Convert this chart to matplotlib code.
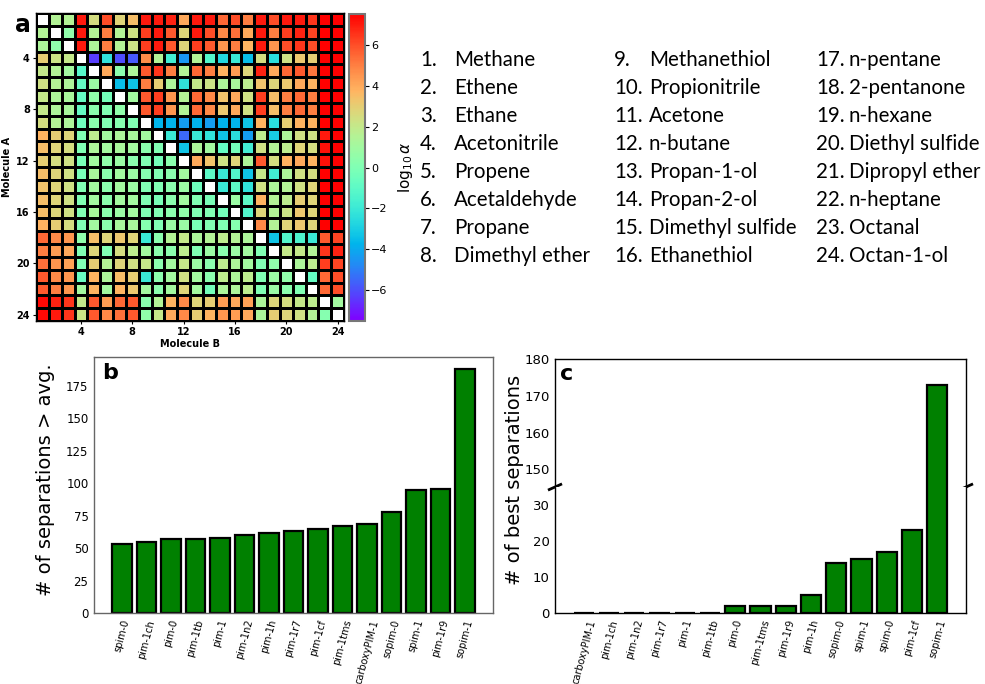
import numpy as np
import matplotlib
matplotlib.use("Agg")
import matplotlib.pyplot as plt

nan = np.nan

# log10(alpha) selectivity of molecule A over molecule B (row = A, column = B)
log_alpha = [
    [nan, 1.5, 1.5, 7.0, 2.5, 6.0, 2.8, 3.5, 7.0, 7.0, 6.8, 4.0, 7.0, 7.0, 5.5, 6.0, 5.0, 7.0, 6.0, 7.0, 7.0, 6.5, 7.5, 7.5],
    [1.5, nan, 0.5, 7.0, 1.5, 5.0, 1.5, 2.3, 6.3, 7.0, 5.8, 2.8, 7.0, 6.0, 4.8, 5.3, 4.0, 7.0, 5.0, 6.3, 6.8, 6.2, 7.5, 7.5],
    [1.3, 0.5, nan, 7.0, 1.3, 5.0, 1.5, 2.2, 6.3, 7.0, 5.8, 2.8, 6.3, 5.8, 4.5, 5.0, 3.7, 7.0, 4.5, 6.0, 6.5, 6.0, 7.5, 7.5],
    [3.0, 2.2, 2.0, nan, -6.3, -2.3, -6.0, -5.8, 4.7, 1.5, -1.8, -4.5, 1.5, -1.3, -2.7, -2.0, -3.5, 2.5, -2.5, 2.3, 3.2, 3.0, 7.5, 7.5],
    [2.0, 1.5, 1.0, -1.2, nan, 4.0, 0.3, 1.3, 5.8, 6.5, 5.0, 1.5, 5.5, 5.0, 3.8, 4.3, 2.7, 6.8, 4.0, 5.5, 5.8, 5.2, 7.5, 7.5],
    [2.3, 1.5, 1.3, -0.8, 0.8, nan, -3.5, -3.3, 5.0, 3.0, 1.3, -2.3, 2.0, 2.2, 1.3, 1.2, 1.8, 3.3, 2.7, 3.2, 4.0, 3.8, 7.5, 7.5],
    [2.0, 1.3, 1.2, -0.8, 0.5, -0.3, nan, 1.0, 5.8, 6.3, 4.5, 1.5, 5.5, 4.8, 3.3, 4.0, 2.3, 6.3, 3.5, 5.0, 5.5, 5.0, 7.5, 7.5],
    [2.0, 1.3, 1.2, -0.8, 0.3, 0.0, 0.5, nan, 5.8, 6.3, 4.5, 1.5, 5.5, 4.8, 3.2, 4.0, 2.3, 6.3, 3.5, 5.0, 5.5, 5.0, 7.5, 7.5],
    [2.5, 1.5, 1.3, -0.5, 0.3, 0.0, 0.2, 0.0, nan, -3.7, -3.8, -4.3, -3.8, -4.3, -3.8, -3.8, -3.3, 3.8, -2.5, 3.0, 3.8, 3.8, 7.5, 7.5],
    [3.8, 3.0, 2.8, 0.0, 1.8, 1.0, 1.3, 1.2, 1.0, nan, -2.0, -5.5, -2.0, -2.3, -3.3, -2.5, -4.3, 1.8, -3.0, 1.3, 2.3, 2.3, 7.0, 7.5],
    [3.5, 2.8, 2.5, 0.0, 1.3, 1.0, 1.2, 1.0, 0.3, 0.0, nan, -3.3, 1.3, 1.0, -0.8, -0.3, -1.8, 2.3, 1.5, 1.8, 2.8, 2.5, 7.2, 7.5],
    [3.0, 2.5, 2.3, -0.2, 1.0, 0.5, 0.8, 0.3, 0.0, -0.3, 0.3, nan, 4.0, 3.3, 2.3, 2.8, 1.3, 5.8, 2.5, 3.8, 4.0, 3.8, 7.2, 7.5],
    [3.5, 2.8, 2.3, -0.2, 1.2, 0.3, 1.0, 0.8, 0.2, 0.0, 0.3, 1.0, nan, -1.0, -2.0, -1.3, -3.3, 2.0, -1.8, 1.3, 2.3, 2.5, 7.5, 7.5],
    [3.3, 2.8, 2.3, 0.0, 1.0, 0.3, 1.0, 0.8, 0.0, 0.0, 0.3, 0.8, -0.5, nan, -2.0, -1.0, -2.3, 2.3, 1.3, 1.5, 2.3, 2.8, 7.5, 7.5],
    [3.5, 2.8, 2.3, 0.0, 1.0, 0.3, 1.0, 1.0, 0.0, -0.2, 0.3, 1.0, 0.0, -0.2, nan, 0.8, -1.0, 3.8, 1.5, 1.8, 3.0, 2.8, 7.5, 7.5],
    [3.5, 2.7, 2.3, 0.0, 1.2, 0.3, 0.8, 1.0, 0.0, 0.0, 0.3, 0.5, 0.0, 0.0, -0.3, nan, -1.3, 2.8, 1.5, 2.2, 3.2, 2.8, 7.5, 7.5],
    [3.8, 3.0, 2.5, 0.0, 1.0, 0.3, 1.2, 1.2, 0.2, 0.0, 0.8, 0.8, -0.2, 0.0, 0.0, 0.2, nan, 4.8, 1.5, 2.8, 3.2, 2.7, 7.5, 7.5],
    [5.5, 4.8, 4.5, 0.5, 3.5, 2.7, 3.2, 2.8, -2.0, 0.3, 1.5, 2.0, 1.3, 1.5, 1.8, 1.5, 1.3, nan, -3.3, -1.3, -1.5, -2.0, 5.8, 6.2],
    [5.0, 4.3, 4.0, 0.0, 2.8, 0.0, 2.5, 1.8, 1.0, 0.3, 0.3, 1.8, 0.0, 0.8, 0.3, 0.8, 1.0, 0.0, nan, 2.0, 2.0, 1.5, 6.5, 6.8],
    [5.3, 4.5, 4.2, 0.0, 3.0, 1.5, 2.7, 2.3, 2.0, 0.3, 1.0, 2.0, 0.8, 0.3, 1.8, 1.3, 1.0, 0.0, 0.5, nan, 1.3, 1.8, 6.3, 6.2],
    [5.8, 4.8, 4.5, -0.7, 3.8, 1.3, 3.5, 3.0, -2.0, 0.3, 1.0, 2.3, 1.0, 0.3, 1.8, 1.3, 1.8, 0.0, 0.8, 0.5, nan, -0.8, 5.5, 6.0],
    [5.8, 5.0, 4.5, 1.0, 3.8, 1.0, 3.7, 3.2, 1.0, 0.3, 1.0, 2.8, 1.0, -0.3, 1.3, 1.3, 1.8, 0.0, 0.8, 0.3, 0.0, nan, 5.5, 6.0],
    [7.3, 6.8, 6.5, 2.0, 5.8, 4.3, 5.5, 5.8, 0.3, 1.5, 3.8, 4.8, 2.8, 3.0, 4.3, 4.0, 4.2, 1.3, 2.7, 2.5, 2.0, 1.8, nan, 1.0],
    [7.3, 7.0, 6.5, 2.2, 5.8, 4.8, 5.3, 5.8, 0.5, 2.0, 4.0, 4.8, 3.0, 3.8, 4.5, 4.3, 4.0, 1.3, 3.0, 2.7, 2.3, 1.5, 0.2, nan],
]

molecules = [
    "Methane", "Ethene", "Ethane", "Acetonitrile", "Propene", "Acetaldehyde",
    "Propane", "Dimethyl ether", "Methanethiol", "Propionitrile", "Acetone",
    "n-butane", "Propan-1-ol", "Propan-2-ol", "Dimethyl sulfide", "Ethanethiol",
    "n-pentane", "2-pentanone", "n-hexane", "Diethyl sulfide", "Dipropyl ether",
    "n-heptane", "Octanal", "Octan-1-ol",
]

above_avg_labels = ["spim-0", "pim-1ch", "pim-0", "pim-1tb", "pim-1", "pim-1n2",
                    "pim-1h", "pim-1r7", "pim-1cf", "pim-1tms", "carboxyPIM-1",
                    "sopim-0", "spim-1", "pim-1r9", "sopim-1"]
above_avg_counts = [53, 55, 57, 57, 58, 60, 62, 63, 65, 67, 69, 78, 95, 96, 188]

best_labels = ["carboxyPIM-1", "pim-1ch", "pim-1n2", "pim-1r7", "pim-1", "pim-1tb",
               "pim-0", "pim-1tms", "pim-1r9", "pim-1h", "sopim-0", "spim-1",
               "spim-0", "pim-1cf", "sopim-1"]
best_counts = [0, 0, 0, 0, 0, 0, 2, 2, 2, 5, 14, 15, 17, 23, 173]

W, H = 985, 684
fig = plt.figure(figsize=(W / 100, H / 100), dpi=100)


def box(x0, y0, x1, y1):
    """Pixel box (top-left origin) -> figure fraction rect."""
    return [x0 / W, 1 - y1 / H, (x1 - x0) / W, (y1 - y0) / H]


# ---------------- panel a: heatmap ----------------
ax_a = fig.add_axes(box(36, 13, 344, 321))
data = np.ma.masked_invalid(np.array(log_alpha, dtype=float))
n = data.shape[0]
cmap = plt.get_cmap("rainbow").copy()
cmap.set_bad("white")
edges = np.arange(n + 1) + 0.5
mesh = ax_a.pcolormesh(edges, edges, data, cmap=cmap, vmin=-7.5, vmax=7.5,
                       edgecolors="black", linewidth=0.8)
ax_a.set_xlim(0.5, n + 0.5)
ax_a.set_ylim(n + 0.5, 0.5)
ticks = [4, 8, 12, 16, 20, 24]
ax_a.set_xticks(ticks)
ax_a.set_yticks(ticks)
ax_a.tick_params(length=2.5, width=0.8, labelsize=7, pad=2)
for lab in ax_a.get_xticklabels() + ax_a.get_yticklabels():
    lab.set_fontweight("bold")
ax_a.set_xlabel("Molecule B", fontsize=7, fontweight="bold", labelpad=1)
ax_a.set_ylabel("Molecule A", fontsize=7, fontweight="bold", labelpad=3)
for s in ax_a.spines.values():
    s.set_linewidth(1.0)

cax = fig.add_axes(box(349, 14, 365, 321))
cb = fig.colorbar(mesh, cax=cax)
cb.set_ticks([-6, -4, -2, 0, 2, 4, 6])
cb.ax.tick_params(labelsize=8, length=3, width=0.8, pad=1.5)
cb.outline.set_edgecolor("#777777")
cb.outline.set_linewidth(1.5)
cb.set_label(r"$\log_{10}\alpha$", fontsize=11, labelpad=6)

fig.text(15 / W, 1 - 13 / H, "a", fontsize=17, fontweight="bold", va="top", ha="left")

# ---------------- molecule key ----------------
key_font = dict(family=["Lato", "DejaVu Sans"], fontsize=14.8, va="center", ha="left")
col_x = [(420, 454), (614, 649), (816, 849)]
row_y0, row_dy = 60, 28
for i, name in enumerate(molecules):
    c, r = divmod(i, 8)
    nx, tx = col_x[c]
    y = 1 - (row_y0 + r * row_dy) / H
    fig.text(nx / W, y, f"{i + 1}.", **key_font)
    fig.text(tx / W, y, name, **key_font)

# ---------------- panel b ----------------
bar_kw = dict(color="#008000", edgecolor="black", linewidth=1.6, width=0.8)
ax_b = fig.add_axes(box(94, 357, 493, 613))
xb = np.arange(len(above_avg_labels))
ax_b.bar(xb, above_avg_counts, **bar_kw)
ax_b.set_xticks(xb)
ax_b.set_xticklabels(above_avg_labels, rotation=75, fontsize=7)
ax_b.set_yticks([0, 25, 50, 75, 100, 125, 150, 175])
ax_b.tick_params(axis="both", length=0, pad=4)
ax_b.tick_params(axis="y", labelsize=8.5)
for s in ax_b.spines.values():
    s.set_color("#666666")
    s.set_linewidth(1.0)
ax_b.text(0.02, 0.975, "b", transform=ax_b.transAxes, fontsize=16,
          fontweight="bold", va="top", ha="left")
fig.text(46 / W, 1 - 480 / H, "# of separations > avg.", rotation=90,
         fontsize=14, ha="center", va="center")

# ---------------- panel c (broken y axis) ----------------
ax_top = fig.add_axes(box(555, 359, 966, 487))
ax_bot = fig.add_axes(box(555, 487, 966, 613), sharex=ax_top)
xc = np.arange(len(best_labels))
for ax in (ax_top, ax_bot):
    ax.bar(xc, best_counts, **bar_kw)
    ax.tick_params(axis="both", length=0, pad=4, labelsize=9.5)
    for s in ax.spines.values():
        s.set_linewidth(1.0)
        s.set_color("black")
ax_top.set_ylim(145.2, 180)
ax_bot.set_ylim(0, 35)
ax_top.set_yticks([150, 160, 170, 180])
ax_bot.set_yticks([0, 10, 20, 30])
ax_top.spines["bottom"].set_visible(False)
ax_bot.spines["top"].set_visible(False)
ax_top.tick_params(axis="x", labelbottom=False)
ax_bot.set_xticks(xc)
ax_bot.set_xticklabels(best_labels, rotation=75, fontsize=7)

dx, dy = 0.014, 0.02
for xx in (0, 1):
    ax_top.plot([xx - dx, xx + dx], [-dy, dy], transform=ax_top.transAxes,
                color="black", lw=2, clip_on=False)
ax_top.text(0.012, 0.96, "c", transform=ax_top.transAxes, fontsize=16,
            fontweight="bold", va="top", ha="left")
fig.text(515 / W, 1 - 480 / H, "# of best separations", rotation=90,
         fontsize=14, ha="center", va="center")

fig.savefig("out.png", dpi=100)
